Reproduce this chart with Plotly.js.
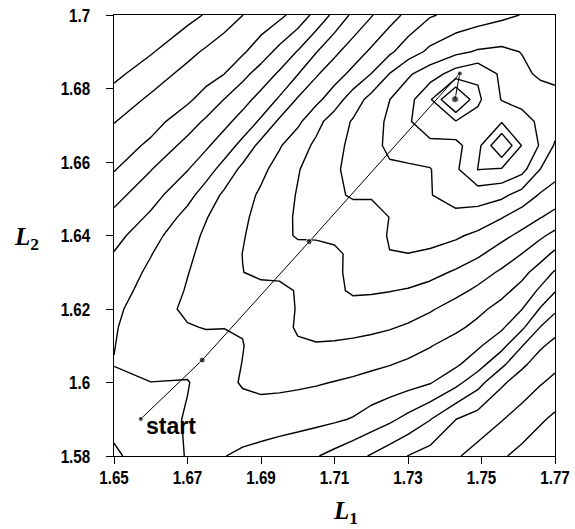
<!DOCTYPE html>
<html>
<head>
<meta charset="utf-8">
<script src="https://cdn.plot.ly/plotly-3.0.1.min.js"></script>
<style>
  html, body { margin: 0; padding: 0; background: #ffffff; }
  #chart { width: 575px; height: 529px; }
</style>
</head>
<body>
<div id="chart"></div>
<script>
// Grid of the surface (L1 across, L2 up)
const gridL1 = [1.65, 1.66, 1.67, 1.675, 1.68, 1.685, 1.69, 1.695, 1.70, 1.705, 1.71, 1.715, 1.72, 1.725, 1.73, 1.736, 1.743, 1.749, 1.7555, 1.761, 1.766, 1.77];
const gridL2 = [1.58, 1.59, 1.60, 1.605, 1.61, 1.615, 1.62, 1.625, 1.63, 1.635, 1.64, 1.645, 1.651, 1.658, 1.6645, 1.671, 1.677, 1.684, 1.69, 1.70];

// Surface values, one row per L2 value (in contour-level units)
const z1580  = [4.85, 5.48, 6.05, 6.08, 6.02, 5.83, 5.63, 5.44, 5.25, 5.06, 4.72, 4.33, 3.92, 3.45, 2.98, 2.58, 2.11, 1.65, 1.12, 0.71, 0.34, 0.05];
const z1590  = [5.28, 5.52, 6.09, 6.30, 6.35, 6.54, 6.57, 6.49, 6.40, 6.27, 6.14, 5.94, 5.57, 5.19, 4.72, 4.04, 3.01, 2.55, 2.05, 1.58, 1.13, 0.81];
const z1600  = [5.85, 5.99, 5.95, 6.35, 6.73, 7.09, 7.21, 7.20, 7.15, 7.08, 6.97, 6.85, 6.70, 6.55, 6.36, 6.07, 5.30, 4.35, 3.15, 2.55, 2.08, 1.76];
const z1605  = [6.02, 6.27, 6.26, 6.39, 6.70, 7.02, 7.32, 7.52, 7.52, 7.51, 7.43, 7.32, 7.18, 7.04, 6.85, 6.55, 6.17, 5.43, 4.22, 3.18, 2.58, 2.23];
const z1610  = [5.98, 6.49, 6.59, 6.69, 6.74, 6.97, 7.34, 7.70, 7.90, 7.93, 7.89, 7.81, 7.70, 7.55, 7.35, 7.05, 6.58, 6.15, 5.30, 4.04, 3.13, 2.72];
const z1615  = [5.93, 6.53, 6.93, 7.04, 7.02, 7.05, 7.35, 7.72, 8.09, 8.27, 8.29, 8.27, 8.19, 8.07, 7.88, 7.56, 7.20, 6.74, 6.14, 5.18, 3.97, 3.35];
const z1620  = [5.82, 6.49, 7.20, 7.30, 7.34, 7.40, 7.47, 7.71, 8.05, 8.41, 8.64, 8.71, 8.66, 8.55, 8.40, 8.10, 7.63, 7.24, 6.67, 6.02, 4.93, 4.19];
const z1625  = [5.60, 6.36, 7.07, 7.36, 7.63, 7.78, 7.80, 7.83, 8.05, 8.44, 8.84, 9.11, 9.09, 9.03, 8.93, 8.69, 8.26, 7.82, 7.28, 6.67, 5.83, 5.06];
const z1630  = [5.40, 6.18, 6.97, 7.31, 7.66, 7.99, 8.14, 8.16, 8.30, 8.52, 8.84, 9.20, 9.49, 9.52, 9.47, 9.28, 8.89, 8.41, 7.86, 7.28, 6.57, 5.90];
const z1635  = [5.05, 5.96, 6.84, 7.25, 7.63, 8.01, 8.34, 8.54, 8.64, 8.76, 8.86, 9.16, 9.57, 9.98, 9.99, 9.86, 9.54, 9.16, 8.53, 7.99, 7.39, 6.80];
const z1640  = [4.67, 5.65, 6.68, 7.14, 7.54, 7.94, 8.33, 8.72, 9.10, 9.08, 9.15, 9.32, 9.65, 10.07, 10.30, 10.34, 10.14, 9.79, 9.27, 8.75, 8.17, 7.73];
const z1645  = [4.25, 5.16, 6.32, 6.95, 7.40, 7.84, 8.28, 8.72, 9.11, 9.41, 9.53, 9.64, 9.75, 10.01, 10.38, 10.71, 10.68, 10.57, 10.05, 9.52, 9.05, 8.65];
const z1651  = [3.67, 4.63, 5.70, 6.44, 7.18, 7.66, 8.14, 8.61, 9.06, 9.46, 9.86, 10.09, 10.06, 10.17, 10.41, 10.95, 11.48, 11.45, 11.22, 10.59, 9.90, 9.60];
const z1658  = [2.93, 3.96, 4.96, 5.58, 6.37, 7.24, 7.78, 8.35, 8.94, 9.41, 9.86, 10.29, 10.67, 10.86, 10.78, 10.95, 11.83, 13.02, 12.90, 12.34, 10.99, 10.37];
const z16645 = [2.46, 3.19, 4.32, 4.85, 5.49, 6.30, 7.30, 7.91, 8.57, 9.18, 9.72, 10.23, 10.71, 11.19, 11.62, 11.63, 11.70, 12.68, 15.10, 12.95, 11.90, 10.90];
const z1671  = [1.96, 2.63, 3.54, 4.15, 4.73, 5.38, 6.16, 7.17, 7.80, 8.70, 9.46, 10.09, 10.62, 11.17, 11.83, 12.90, 12.93, 12.60, 12.92, 12.55, 11.73, 11.40];
const z1677  = [1.44, 2.16, 2.84, 3.36, 4.02, 4.65, 5.34, 6.13, 7.10, 7.74, 8.53, 9.49, 10.33, 10.99, 11.64, 12.87, 15.50, 13.19, 11.95, 11.55, 11.45, 11.35];
const z1684  = [0.75, 1.53, 2.28, 2.64, 2.99, 3.71, 4.42, 5.14, 5.96, 6.88, 7.57, 8.25, 9.01, 10.02, 10.85, 11.54, 12.42, 12.85, 11.79, 11.20, 10.85, 10.72];
const z1690  = [0.25, 0.91, 1.74, 2.13, 2.50, 2.87, 3.51, 4.29, 5.06, 5.95, 6.79, 7.50, 8.16, 8.83, 9.52, 10.21, 10.77, 11.10, 11.20, 10.97, 10.60, 10.55];
const z1700  = [-0.60, 0.00, 0.70, 1.07, 1.53, 1.99, 2.38, 2.77, 3.39, 4.31, 5.25, 6.20, 6.93, 7.61, 8.24, 8.91, 9.26, 9.51, 9.79, 10.03, 10.25, 10.40];

// Search path: start, two steps, overshoot point, optimum
const pathL1 = [1.6573, 1.6740, 1.7031, 1.7441, 1.7428];
const pathL2 = [1.5901, 1.6061, 1.6383, 1.6841, 1.6771];
const pathDot = [5, 6, 6, 5, 7];

// Ticks
const xTicks = [1.65, 1.67, 1.69, 1.71, 1.73, 1.75, 1.77];
const xTickText = ['1.65', '1.67', '1.69', '1.71', '1.73', '1.75', '1.77'];
const yTicks = [1.58, 1.60, 1.62, 1.64, 1.66, 1.68, 1.70];
const yTickText = ['1.58', '1.6', '1.62', '1.64', '1.66', '1.68', '1.7'];

const zGrid = [z1580, z1590, z1600, z1605, z1610, z1615, z1620, z1625, z1630, z1635, z1640,
               z1645, z1651, z1658, z16645, z1671, z1677, z1684, z1690, z1700];

const tickFont = { family: 'Liberation Sans, Arial, Helvetica, sans-serif', size: 19, color: '#000', weight: 'bold' };
const titleFont = { family: 'Liberation Serif, Times New Roman, serif', size: 25, color: '#000', weight: 'bold' };

const traces = [
  {
    type: 'contour',
    x: gridL1,
    y: gridL2,
    z: zGrid,
    contours: { start: 1, end: 14, size: 1, coloring: 'none', showlabels: false },
    line: { color: '#000', width: 1.4, smoothing: 0 },
    showscale: false,
    hoverinfo: 'skip'
  },
  {
    type: 'scatter',
    mode: 'lines+markers',
    x: pathL1,
    y: pathL2,
    line: { color: '#000', width: 1 },
    marker: { color: '#000', size: pathDot },
    hoverinfo: 'skip',
    showlegend: false
  }
];

const layout = {
  width: 575,
  height: 529,
  margin: { l: 114, r: 20, t: 15, b: 73 },
  paper_bgcolor: '#fff',
  plot_bgcolor: '#fff',
  showlegend: false,
  xaxis: {
    range: [1.65, 1.770001],
    tickvals: xTicks,
    ticktext: xTickText,
    ticks: 'outside', ticklen: 7, tickwidth: 1, tickcolor: '#000',
    ticklabelstandoff: -3,
    showline: true, mirror: true, linecolor: '#000', linewidth: 1,
    showgrid: false, zeroline: false,
    tickfont: tickFont
  },
  yaxis: {
    range: [1.579999, 1.700001],
    tickvals: yTicks,
    ticktext: yTickText,
    ticks: 'outside', ticklen: 7, tickwidth: 1, tickcolor: '#000',
    ticklabelstandoff: 12,
    showline: true, mirror: true, linecolor: '#000', linewidth: 1,
    showgrid: false, zeroline: false,
    tickfont: tickFont
  },
  annotations: [
    {
      text: 'start', x: 1.65816, y: 1.5882, xref: 'x', yref: 'y',
      xanchor: 'left', yanchor: 'middle', showarrow: false,
      font: { family: 'Liberation Sans, Arial, sans-serif', size: 23, color: '#000', weight: 'bold' }
    },
    {
      text: '<i>L</i><sub>1</sub>', x: 0.492, y: -0.089, xref: 'paper', yref: 'paper',
      xanchor: 'left', yanchor: 'top', showarrow: false, font: titleFont
    },
    {
      text: '<i>L</i><sub>2</sub>', x: -0.231, y: 0.494, xref: 'paper', yref: 'paper',
      xanchor: 'left', yanchor: 'middle', showarrow: false, font: titleFont
    }
  ]
};

Plotly.newPlot('chart', traces, layout, { staticPlot: true, displayModeBar: false }).then(function (gd) {
  // The reference tick labels use a narrow bold face: condense the real text horizontally.
  gd.querySelectorAll('.xtick text, .ytick text').forEach(function (t) {
    const x = parseFloat(t.getAttribute('x') || '0');
    const tr = t.getAttribute('transform') || '';
    t.setAttribute('transform', tr + ' translate(' + x + ',0) scale(0.8,1) translate(' + (-x) + ',0)');
  });
});
</script>
</body>
</html>
